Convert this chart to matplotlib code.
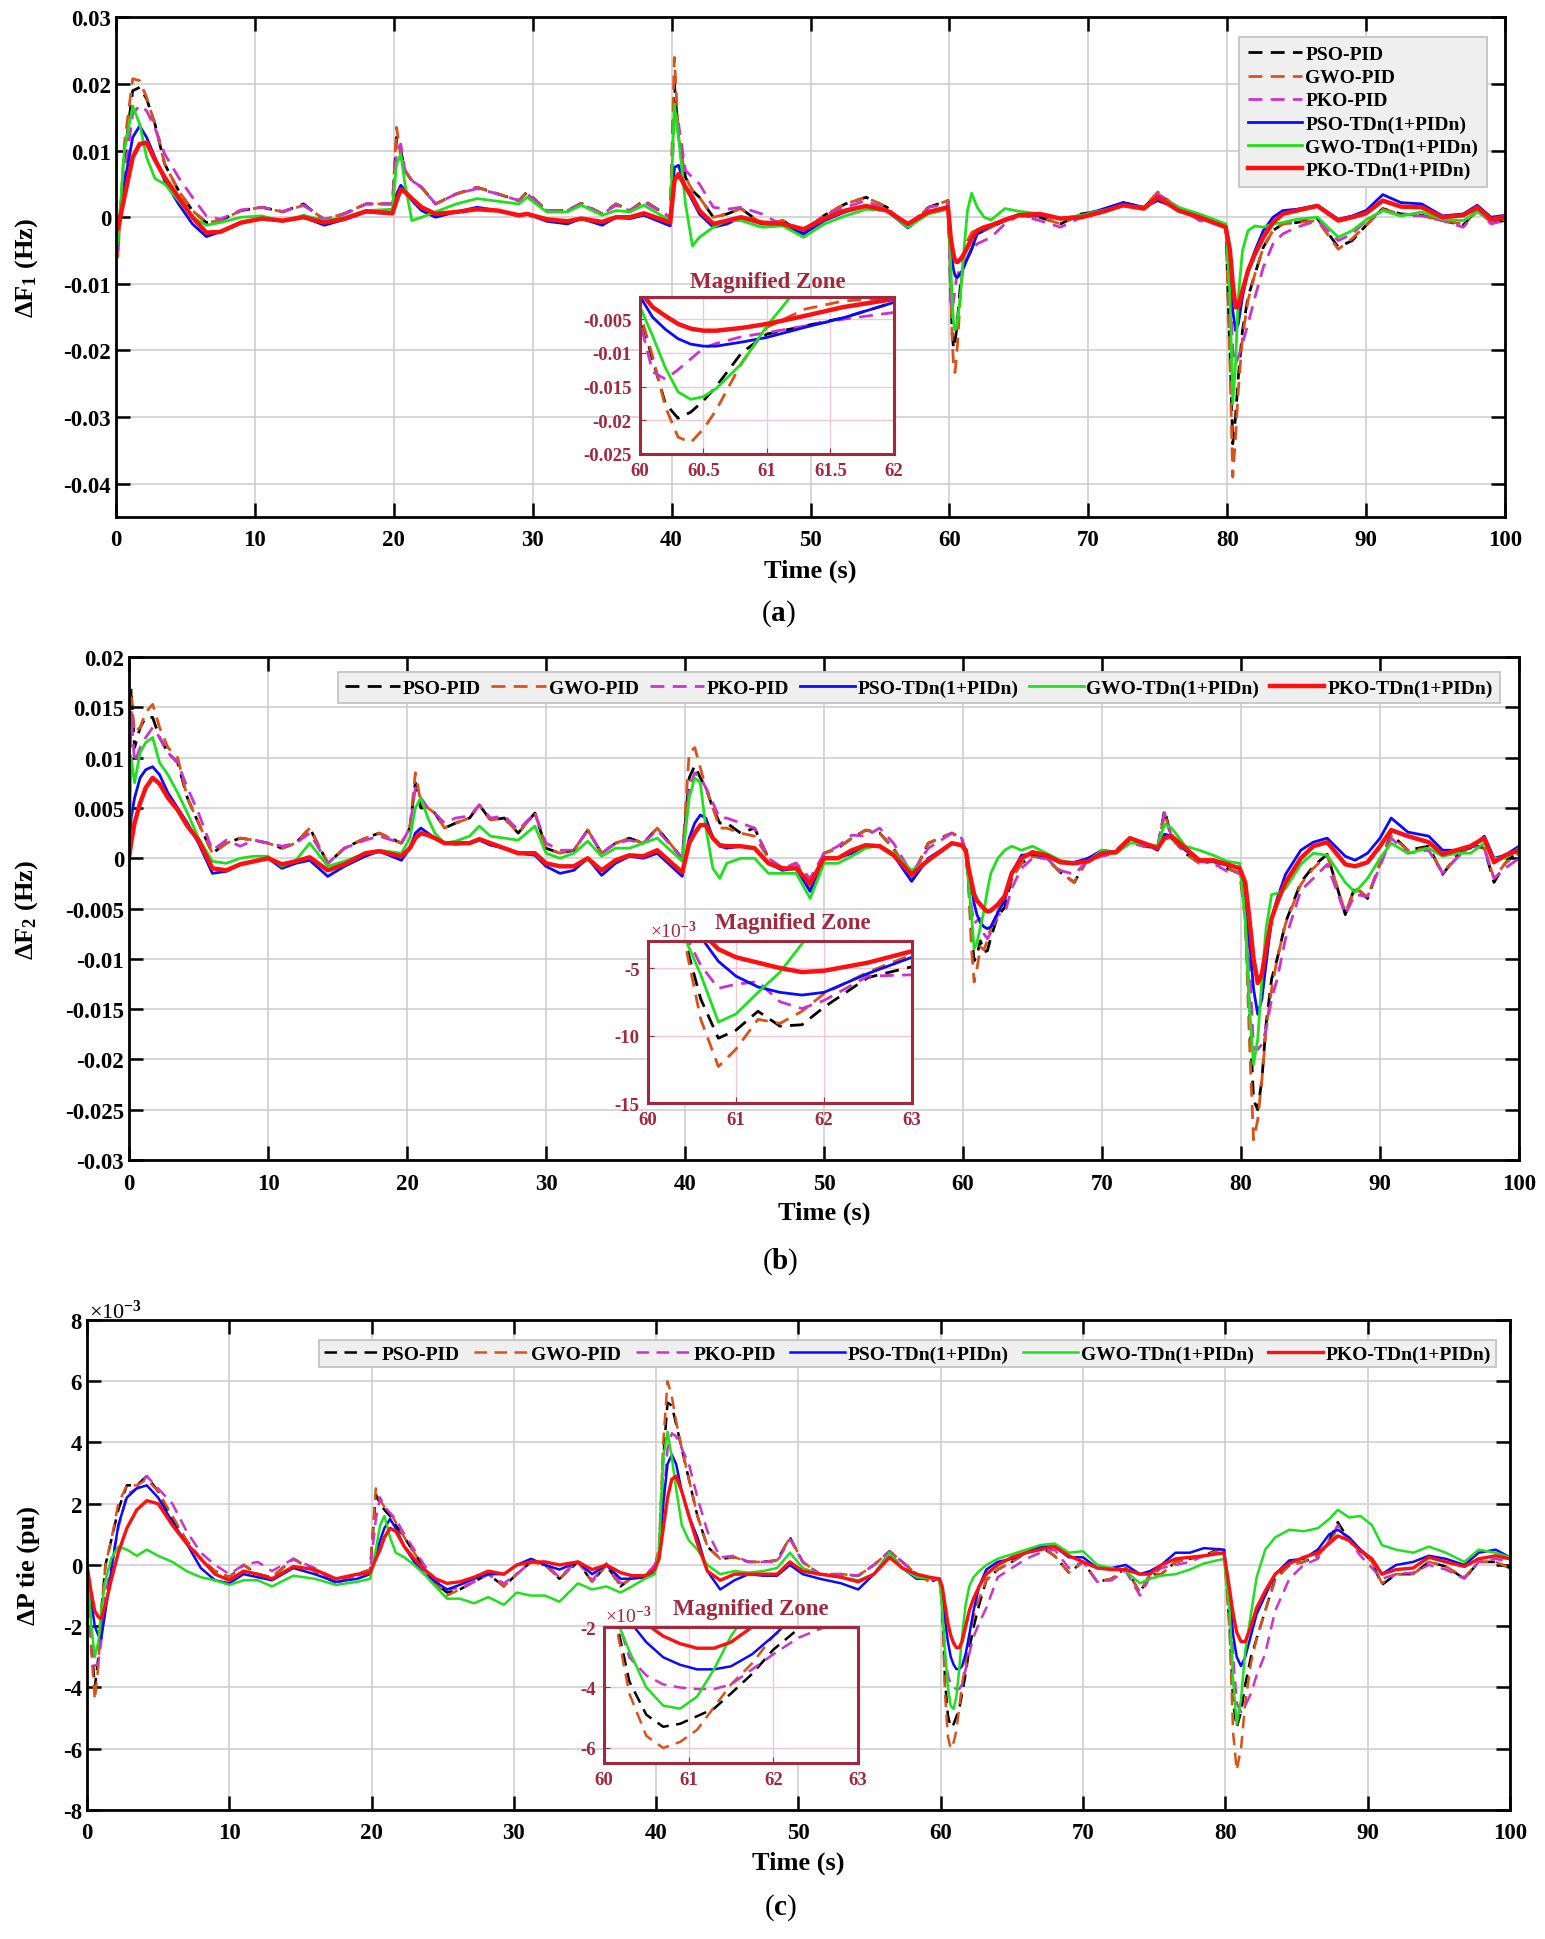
import numpy as np
import matplotlib
matplotlib.use('Agg')
import matplotlib.pyplot as plt

# Fonts: Times-like bold, as in the MATLAB figure
plt.rcParams['font.family'] = ['Liberation Serif', 'DejaVu Serif']
plt.rcParams['font.weight'] = 'bold'
plt.rcParams['mathtext.fontset'] = 'custom'
plt.rcParams['mathtext.rm'] = 'Liberation Serif:bold'
plt.rcParams['mathtext.bf'] = 'Liberation Serif:bold'
plt.rcParams['mathtext.it'] = 'Liberation Serif:italic:bold'

names = ['PSO-PID', 'GWO-PID', 'PKO-PID', 'PSO-TDn(1+PIDn)', 'GWO-TDn(1+PIDn)', 'PKO-TDn(1+PIDn)']

# ---------------- (a) dF1, values in 1e-3 Hz ----------------
t_a = [0, 0.12, 0.6, 1.2, 1.7, 2.2, 2.8, 3.5, 4.5, 5.5, 6.5, 7.5, 9, 10.5, 12, 13.5, 15, 16.5, 18, 19.9,
       20.2, 20.5, 20.8, 21.3, 22, 23, 24.5, 26, 27.5, 29, 29.6, 31, 32.5, 33.5, 35, 36, 37, 38, 39.9,
       40.2, 40.5, 41, 41.5, 42, 43, 44, 45, 46.5, 48, 49.5, 51, 52.5, 54, 55.5, 57, 58.5, 59.9,
       60.1, 60.2, 60.3, 60.4, 60.5, 60.6, 60.8, 61, 61.3, 61.6, 62, 62.5, 63, 64, 65, 66.5, 68, 69.5, 71, 72.5, 74, 75, 76.5, 78, 79.9,
       80.2, 80.4, 80.6, 80.8, 81.1, 81.5, 82, 82.6, 83.3, 84, 85, 86.5, 88, 89, 90, 91.2, 92.5, 94, 95.5, 97, 98, 99, 100]
a_pso_pid = [-1.5, -5, 9, 19, 19.5, 17.8, 14, 8, 4, 1, -0.8, -0.5, 1, 1.5, 0.8, 2, -0.5, 0.6, 2, 2,
             12, 10, 7, 5.5, 4.5, 2, 3.5, 4.5, 3.5, 2.5, 3.8, 1, 1, 2.1, 0.5, 2, 1, 2.5, 0,
             20, 12, 6, 4, 3, 0, 0.5, 1.3, -1, -0.5, -2.5, 0.3, 2, 3, 1.5, -1.5, 1.5, 2.5,
             -11, -17.5, -19.7, -18.8, -17.1, -15, -10, -7.2, -6, -4.8, -2.5, -2, -1.5, -0.5, 0.3, 0, -1, 0.5, 1, 2.2, 1.5, 3.5, 1.3, -0.2, -1.2,
             -20, -34, -30, -24, -17, -12, -8.5, -4.5, -2, -1, -0.8, -0.2, -4.5, -3.5, -1.2, 1.3, 0.5, 0.3, -0.5, -1.2, 1.2, -0.8, -0.5]
a_gwo_pid = [-2, -6, 11, 20.8, 20.5, 18, 14, 8, 4, 1, -0.8, -0.5, 1, 1.5, 0.8, 1.8, -0.3, 0.6, 2, 2,
             13.5, 9, 7, 5.5, 4.5, 2, 3.5, 4.5, 3.5, 2.5, 3.8, 1, 1, 2.1, 0.5, 2, 1, 2.5, 0,
             24, 12, 6, 4, 3, 0, 0.5, 1.3, -1, -0.5, -2, 0.3, 2, 3, 1.5, -1.5, 1.5, 2.5,
             -10.5, -18, -22.5, -23.3, -21.3, -18.5, -11.5, -6.2, -3.5, -2.3, -1.8, -2, -1.5, -0.5, 0.3, 0, -1, 0.5, 1, 2, 1.5, 3.8, 1.3, -0.2, -1.2,
             -22, -39, -33, -26, -18, -12.5, -8.5, -4.5, -2, -1, -0.8, -0.5, -4.8, -3.2, -1.2, 1.2, 0.5, 0.3, -0.5, -1, 1.2, -0.8, -0.3]
a_pko_pid = [-1.5, -5, 6, 15.5, 16.8, 16, 13.4, 9.5, 6, 3, 0.2, -0.3, 1.1, 1.5, 0.9, 1.8, -0.3, 0.5, 2, 2,
             10, 11, 7, 5.5, 4.5, 2, 3.5, 4.3, 3.5, 2.5, 3.5, 1, 1, 2, 0.5, 1.8, 1, 2.3, 0,
             15, 14, 7, 6, 5, 1.5, 1.2, 1.5, 0.5, -1.2, -2, 0.3, 1.5, 2.5, 1, -1.2, 1.5, 2,
             -12.8, -13.9, -12.5, -10.9, -9.3, -8.6, -7.6, -7, -6, -5, -4, -3.5, -3, -1, 0.3, -0.5, -1.5, 0, 1, 2, 1.3, 3.5, 1.5, -0.5, -1.2,
             -10, -20, -22, -21, -19, -16, -12, -7.5, -4, -2.5, -1.5, -0.5, -3.5, -2.5, -0.5, 1, 0.3, 0.2, -0.5, -1.5, 1, -1, -0.5]
a_pso_td = [-1, -2.5, 5, 12, 13.7, 12, 9, 5.5, 2, -1, -2.9, -2.2, -0.8, -0.2, -0.6, 0, -1.2, -0.3, 0.8, 0.5,
            3.5, 4.8, 4, 2.5, 1, 0, 0.8, 1.5, 1, 0.2, 0.5, -0.6, -1, -0.2, -1.2, 0, -0.2, 0.3, -1.3,
            7.5, 7.8, 4.5, 2.5, 0.5, -1.5, -1, 0, -1, -1.2, -2.5, -0.5, 0.8, 1.7, 1, -1.6, 0.8, 1.5,
            -4.7, -6.5, -7.9, -8.7, -9, -9, -8.4, -7.7, -6.2, -4.8, -2.5, -1.8, -1.3, -0.3, 0.4, 0.3, -0.2, 0.2, 1.2, 2.2, 1.5, 2.5, 1.3, 0, -1.5,
            -8, -14, -17, -16, -12, -8, -5, -2, 0, 1, 1.2, 1.8, -0.3, 0.2, 1, 3.4, 2.2, 2, 0.2, 0.5, 1.8, 0, 0.3]
a_gwo_td = [-1, -4, 10, 16.7, 14, 9, 5.8, 5, 2.5, 0, -1.2, -0.8, 0, 0.2, -0.6, 0.3, -0.5, 0, 1, 1.2,
            8, 9.5, 5, -0.5, 0, 0.8, 2, 2.8, 2.4, 2, 3, 0.8, 0.8, 1.8, 0.3, 1, 0.8, 1.8, -0.5,
            17, 12, 2, -4.3, -3, -1.5, -0.5, -0.5, -1.5, -1.3, -3, -1, 0.2, 1.2, 1, -1.5, 0.5, 1.2,
            -7.5, -12.2, -15.8, -16.9, -16.5, -15.3, -11.6, -6, 1, 3.6, 1.5, 0, -0.4, 1.3, 0.9, 0.5, -0.2, 0.3, 1, 1.7, 1.5, 3, 1.5, 0.5, -1,
            -12, -28, -22, -12, -5, -2, -1.3, -1.5, -1, -0.8, -0.3, 0, -3, -2, -0.4, 1, 0.2, 0.8, -0.3, -0.5, 0.8, -0.3, 0.2]
a_pko_td = [-1.5, -1.8, 3, 9, 11, 11.2, 8.6, 6, 3, 0, -2.3, -2.2, -0.8, -0.2, -0.5, 0, -0.8, -0.2, 0.9, 0.6,
            2.5, 4.2, 3.8, 2.8, 1.5, 0.5, 0.8, 1.2, 1, 0.3, 0.5, -0.3, -0.6, -0.2, -0.7, 0, 0, 0.6, -0.8,
            5.5, 6.5, 4.5, 3, 1, -1, -0.5, 0, -0.8, -1, -1.8, -0.2, 1, 1.7, 1, -1, 0.8, 1.5,
            -3.2, -4.5, -5.7, -6.4, -6.7, -6.7, -6.3, -5.7, -4.5, -3.2, -2.0, -1.5, -1.2, -0.4, 0.3, 0.5, -0.2, 0, 0.8, 1.8, 1.3, 3, 1, 0, -1.5,
            -5, -10, -13.5, -13.5, -11, -8, -5.5, -3, -0.8, 0.5, 1, 1.7, -0.5, 0, 0.6, 2.5, 1.6, 1.5, 0, 0.3, 1.5, -0.3, 0]

# ---------------- (b) dF2, values in 1e-3 Hz ----------------
t_b = [0, 0.15, 0.4, 0.8, 1.2, 1.7, 2.2, 2.8, 3.5, 4.2, 5, 6, 7, 8, 9, 10, 11, 12, 13, 14.3, 15.5, 17, 18, 19.6,
       20.2, 20.6, 21, 21.5, 22, 22.7, 23.5, 24.5, 25.2, 26, 27, 28, 29.2, 30, 31, 32, 33, 34, 35, 36, 37, 38, 39.8,
       40.3, 40.7, 41.1, 41.5, 42, 42.5, 43, 44, 45, 46, 47, 48, 49, 50, 51, 52, 53, 54, 55, 56.3, 57.5, 59.2, 59.9,
       60.2, 60.4, 60.6, 60.8, 61, 61.25, 61.5, 61.75, 62, 62.5, 63, 63.5, 64.2, 65, 66, 67, 68, 69, 70, 71, 72, 73, 74, 74.5, 75, 76, 77, 78, 79, 79.9,
       80.3, 80.6, 80.9, 81.2, 81.5, 81.8, 82.2, 82.6, 83.2, 84.3, 85.2, 86.2, 87.5, 88.2, 89.1, 90, 90.8, 92, 93.5, 94.5, 95.5, 96.5, 97.5, 98.2, 99, 100]
b_pso_pid = [0, 16.9, 11, 13, 14, 14, 12, 10.5, 9.5, 6, 3.5, 0.5, 1.5, 2, 1.8, 1.5, 1, 1.5, 3, -0.5, 1, 2, 2.5, 1.5,
             3, 7.5, 5, 5, 4.5, 3, 3.5, 4, 5.3, 3.8, 4, 2.5, 4.5, 1, 0.5, 0.8, 2.8, 0.5, 1.5, 2, 1.5, 3, 0,
             8, 9.2, 8, 7, 5, 3.5, 3.5, 2.5, 3, 0, -1, -0.5, -3, 0.5, 1, 2, 2.8, 2.5, 1, -2, 1.5, 2.5, 2,
             0.5, -2.5, -7.3, -10.2, -9.6, -8.2, -9.3, -9.2, -7.9, -5.7, -4.9, -2, -0.5, 0.2, 0, -1.4, -2.4, 0, 0.3, 0.8, 1.8, 1.2, 1, 4.8, 2, 0.5, -0.5, -0.3, -1, -1.5,
             -5, -15, -24, -25, -22, -16.5, -12, -10, -6.4, -2.4, -0.8, 0.4, -5.6, -2.8, -4, -0.5, 2.4, 0.8, 1.2, -1.6, 0.2, 1.4, 1, -2.4, -0.5, 0.8]
b_gwo_pid = [0, 16, 12.5, 13, 14.5, 15.3, 13, 11, 10, 6, 3.5, 0.5, 1.5, 2, 1.8, 1.5, 1, 1.5, 3, -0.5, 1, 2, 2.5, 1.5,
             3, 8.5, 5.5, 5, 4.5, 3, 3.5, 4, 5.3, 3.8, 4, 2.5, 4.5, 1, 0.5, 0.8, 2.8, 0.5, 1.5, 2, 1.5, 3, 0,
             10.5, 11, 9, 7, 5, 3, 3, 2.5, 2.2, 0, -1, -0.5, -3, 0.5, 1, 2, 2.8, 2.5, 1, -2, 1.5, 2.5, 2,
             0.5, -2.5, -8.8, -12.3, -11, -8.8, -9.1, -8.2, -6.9, -5.3, -4, -2, -0.5, 0.2, 0, -1.4, -2.4, 0, 0.3, 0.8, 2, 1.2, 1, 4.5, 2, 0.5, -0.5, -0.3, -1, -1.5,
             -6, -18, -28, -26, -22, -17, -13, -10, -6.5, -2.6, -1, 0.3, -5.4, -3, -3.8, -0.5, 2.2, 0.8, 1, -1.4, 0, 1.2, 1, -2, -0.5, 0.5]
b_pko_pid = [0, 14.5, 9.5, 11, 12, 13, 12, 10.5, 9.5, 7, 4.5, 0.8, 1.8, 1.2, 1.8, 1.5, 1.2, 1.5, 2.5, -0.5, 1, 1.8, 2.2, 1.5,
             3, 7, 6, 5, 4.5, 3.5, 4, 4.2, 5.3, 4, 4.2, 2.8, 4.5, 1.5, 0.8, 0.8, 2.8, 0.5, 1.5, 1.8, 1.5, 2.8, 0,
             7, 8.5, 8, 7, 5.5, 4, 4, 3.5, 3, 0, -1, -0.5, -2, 0.5, 1.2, 2.3, 2.2, 3, 1.5, -1.5, 1, 2.5, 2,
             0.5, -2.2, -4.8, -6.5, -6.2, -6, -7.5, -8, -7.4, -5.6, -5.5, -3, -1, 0, 0, -1.2, -1.6, -0.2, 0.2, 0.5, 1.5, 1.2, 1.3, 4.5, 2.2, 0.8, -0.3, -0.5, -1.3, -1.5,
             -3, -10, -19, -19, -18.5, -17, -14, -12, -8, -3.2, -2, -0.6, -5.6, -3.6, -3.8, -0.8, 2, 0.5, 0.8, -1.5, 0, 1.2, 1, -2, -1, 0]
b_pso_td = [0, 4, 6, 8, 8.8, 9.1, 8.3, 6.5, 5, 3.5, 1.5, -1.5, -1.3, -0.6, -0.3, 0, -1, -0.5, -0.2, -1.8, -0.8, 0.2, 0.7, -0.2,
            1, 2.5, 3, 2.5, 2, 1.5, 1.4, 1.5, 1.8, 1.3, 1, 0.5, 0.3, -0.8, -1.5, -1.2, 0, -1.7, -0.5, 0.2, 0, 0.5, -1.8,
            2, 3.5, 4.3, 4, 2, 1.2, 1, 1.2, 1, -0.5, -1.2, -1, -3.3, 0, 0, 0.5, 1.3, 1.2, 0.3, -2.3, 0, 1.5, 1.3,
            0.8, -1.5, -2.7, -4.5, -5.6, -6.4, -6.8, -7, -6.8, -5.4, -4.2, -1.5, 0.3, 0.4, 0.2, -0.4, -0.4, 0, 0.8, 0.6, 2, 1.5, 0.8, 2.4, 2.2, 0.8, -0.2, -0.3, -0.7, -1,
            -3, -8, -13, -15.5, -14, -10.5, -6, -4, -1.6, 0.8, 1.6, 2, 0.2, -0.2, 0.5, 2, 4, 2.6, 2.2, 0.8, 0.8, 1, 2.2, 0, 0.3, 1.2]
b_gwo_td = [0, 10, 7.5, 10.5, 11.5, 12, 9.5, 8.3, 6.5, 4.5, 2, -0.3, -0.5, 0, 0.2, 0.2, -0.8, -0.2, 1.5, -0.8, -0.3, 0.5, 0.8, 0.5,
            2, 5, 6, 4, 2.5, 1.5, 1.7, 2.2, 3.2, 2.2, 2, 1.8, 3.2, 0.5, 0, 0.5, 1.7, 0.2, 1, 1, 1.5, 2, -0.3,
            6, 8, 7.5, 3, -1, -2, -0.5, 0, 0, -1.5, -1.5, -1.5, -4, -0.5, -0.5, 0.2, 1, 1.3, 0.5, -1.2, -0.2, 1.5, 1.2,
            0.5, -2.5, -5.5, -9, -8.4, -6.8, -5.3, -3.2, -1.5, 0, 0.8, 1.2, 0.8, 1.2, 0.5, -0.2, -0.5, -0.3, 0.8, 0.5, 1.5, 1.5, 1.2, 3.4, 3, 1.2, 0.8, 0.3, -0.3, -0.5,
            -6, -15, -20.5, -18, -12, -7, -3.6, -3.5, -3, -0.6, 0.5, 0.3, -2.4, -3.4, -2, 0, 1.5, 0.5, 1, 0.2, 0.5, 0.5, 1.5, 0, 0, 1]
b_pko_td = [0, 1.5, 3.5, 5.5, 7, 8, 7.4, 6, 4.8, 3.2, 1.8, -1, -1.2, -0.6, -0.3, 0, -0.6, -0.3, 0.1, -1.2, -0.6, 0.5, 0.7, 0.2,
            1, 2, 2.5, 2.3, 2, 1.5, 1.5, 1.5, 1.9, 1.5, 1, 0.5, 0.5, -0.5, -0.8, -0.8, 0, -1.2, -0.2, 0.3, 0.2, 0.8, -1.4,
            1.5, 2.5, 3.3, 3.3, 2, 1.3, 1.2, 1.2, 1, -0.5, -1, -1, -2.5, 0, 0, 0.8, 1.3, 1.2, 0.3, -1.6, -0.2, 1.5, 1.3,
            0.8, -1, -2.3, -3.6, -4.2, -4.6, -5, -5.3, -5.2, -4.6, -3.75, -1.5, 0, 0.6, 0.3, -0.4, -0.5, -0.3, 0.5, 0.6, 2, 1.5, 1, 2, 2.2, 1, -0.2, -0.2, -0.6, -1,
            -2.4, -6, -10, -12.4, -11.5, -9, -6, -4.4, -2.4, 0, 1.2, 1.6, -0.6, -0.8, -0.4, 1.2, 2.8, 2.2, 1.6, 0.4, 0.8, 1.2, 2, -0.4, 0.3, 0.8]

# ---------------- (c) dPtie, values in 1e-3 pu ----------------
t_c = [0, 0.3, 0.55, 0.8, 1.0, 1.3, 1.7, 2.2, 2.8, 3.5, 4.2, 5, 6, 7, 8, 9, 10, 11, 12, 13, 14.5, 16, 17.5, 19, 19.9,
       20.3, 20.6, 20.9, 21.3, 21.7, 22.3, 23, 23.7, 24.5, 25.3, 26.2, 27.2, 28.2, 29.3, 30.2, 31.2, 32.2, 33.2, 34.5, 35.5, 36.5, 37.5, 38.3, 39.2, 39.9,
       40.2, 40.5, 40.8, 41.1, 41.4, 41.8, 42.3, 42.9, 43.6, 44.5, 45.5, 46.5, 47.5, 48.5, 49.4, 50.3, 51.5, 53, 54.2, 55.3, 56.4, 57.3, 58.3, 59.2, 59.9,
       60.1, 60.3, 60.5, 60.7, 60.9, 61.1, 61.3, 61.5, 61.75, 62, 62.3, 62.7, 63.2, 64, 65, 66, 67, 68, 69, 70, 71, 72, 73, 74, 74.7, 75.5, 76.5, 77.5, 78.5, 79.9,
       80.3, 80.55, 80.8, 81.1, 81.4, 81.8, 82.2, 82.8, 83.5, 84.5, 85.5, 86.5, 87.3, 87.9, 88.7, 89.5, 90.3, 91, 92, 93.2, 94.3, 95.5, 96.8, 97.8, 99, 100]
c_pso_pid = [0, -2.5, -4, -3, -1.5, 0, 0.8, 1.8, 2.6, 2.6, 2.9, 2.4, 1.5, 0.8, 0.2, -0.2, -0.4, 0, -0.3, -0.4, 0.2, -0.2, -0.6, -0.3, -0.15,
             2.3, 2.0, 1.8, 1.6, 1.3, 0.9, 0.4, -0.1, -0.6, -0.9, -0.8, -0.55, -0.3, -0.7, -0.3, 0.1, 0, -0.45, 0.1, -0.55, 0, -0.7, -0.4, -0.4, -0.1,
             0.5, 3.5, 5.3, 5.2, 4.6, 3.8, 2.8, 1.6, 0.6, 0.2, 0.25, 0.1, 0.1, 0.15, 0.9, 0.1, -0.3, -0.3, -0.35, 0, 0.45, 0.1, -0.3, -0.55, -0.45,
             -1.2, -3.8, -4.9, -5.3, -5.2, -4.95, -4.7, -4.2, -3.55, -2.75, -2.05, -1.3, -0.5, -0.15, 0.1, 0.4, 0.6, 0.3, -0.25, 0.1, -0.55, -0.45, -0.1, -0.9, -0.3, -0.3, 0.1, 0.2, 0.3, 0.6,
             -2.0, -4.5, -5.3, -4.8, -3.9, -3.0, -2.4, -1.5, -0.45, 0, 0.1, 0.3, 0.8, 1.4, 0.8, 0.5, 0.1, -0.65, -0.3, -0.3, 0.1, -0.05, -0.45, 0.1, 0.1, -0.1]
c_gwo_pid = [0, -2.8, -4.4, -3.3, -1.5, 0, 0.8, 2, 2.6, 2.6, 2.8, 2.4, 1.6, 0.8, 0.2, -0.2, -0.4, 0, -0.3, -0.4, 0.2, -0.2, -0.6, -0.3, -0.15,
             2.5, 2.1, 1.9, 1.7, 1.4, 0.9, 0.4, -0.1, -0.6, -1.0, -0.8, -0.55, -0.3, -0.7, -0.3, 0.1, 0, -0.45, 0.1, -0.55, 0, -0.7, -0.4, -0.4, -0.1,
             0.6, 4.0, 6.0, 5.5, 4.7, 3.8, 2.8, 1.6, 0.6, 0.2, 0.25, 0.1, 0.1, 0.15, 0.9, 0.1, -0.3, -0.3, -0.35, 0, 0.45, 0.1, -0.3, -0.55, -0.45,
             -1.3, -4.2, -5.6, -6.0, -5.8, -5.4, -4.65, -3.9, -3.2, -2.3, -1.7, -1.1, -0.5, -0.15, 0.1, 0.4, 0.6, 0.3, -0.25, 0.1, -0.55, -0.45, -0.1, -0.9, -0.3, -0.3, 0.1, 0.2, 0.3, 0.55,
             -2.2, -5.5, -6.7, -6.0, -4.5, -3.2, -2.4, -1.5, -0.5, 0, 0.1, 0.3, 0.7, 1.2, 0.8, 0.5, 0.1, -0.6, -0.3, -0.3, 0.1, -0.05, -0.4, 0.1, 0.1, -0.1]
c_pko_pid = [0, -2, -3.3, -3.2, -2.5, -1, 0, 1.2, 2.3, 2.5, 2.9, 2.5, 2.0, 1.1, 0.4, 0, -0.3, 0, 0.1, -0.2, 0.2, -0.1, -0.6, -0.35, -0.2,
             1.5, 2.2, 1.9, 1.7, 1.5, 1.0, 0.5, 0, -0.5, -0.8, -0.75, -0.55, -0.3, -0.6, -0.3, 0.1, 0.05, -0.4, 0.15, -0.5, 0.05, -0.6, -0.4, -0.35, 0,
             0.3, 2.0, 3.8, 4.3, 4.2, 3.8, 3.3, 2.2, 1.1, 0.25, 0.3, 0.1, 0.1, 0.1, 0.85, 0.1, -0.3, -0.3, -0.35, 0, 0.45, 0.1, -0.3, -0.5, -0.45,
             -1.2, -3.0, -3.6, -3.9, -4.0, -4.05, -4.05, -3.9, -3.4, -2.9, -2.35, -1.9, -1.4, -0.4, -0.1, 0.2, 0.4, 0.5, -0.1, 0.1, -0.55, -0.5, -0.2, -1.0, -0.4, -0.1, 0, 0.1, 0.3, 0.4,
             -1.2, -3.0, -4.5, -4.8, -4.6, -4.2, -3.6, -2.9, -1.5, -0.45, 0, 0.2, 0.8, 1.3, 0.8, 0.3, -0.1, -0.45, -0.3, -0.25, 0, -0.15, -0.45, 0.1, 0.2, 0.1]
c_pso_td = [0, -1.2, -2, -2.3, -2.4, -1.5, -0.2, 1.3, 2.2, 2.5, 2.6, 2.2, 1.4, 0.7, -0.1, -0.5, -0.6, -0.3, -0.4, -0.5, -0.1, -0.3, -0.55, -0.45, -0.3,
            0.3, 0.8, 1.2, 1.5, 1.2, 0.6, 0.1, -0.3, -0.55, -0.8, -0.65, -0.45, -0.3, -0.3, 0, 0.2, 0, -0.15, 0.1, -0.3, 0, -0.45, -0.45, -0.4, -0.2,
            0.3, 2.0, 3.3, 3.6, 3.3, 2.4, 1.6, 0.9, -0.2, -0.8, -0.5, -0.3, -0.35, -0.35, 0, -0.3, -0.45, -0.6, -0.8, -0.3, 0.4, -0.1, -0.45, -0.45, -0.45,
            -0.8, -1.8, -2.5, -3.0, -3.25, -3.4, -3.4, -3.3, -2.9, -2.3, -1.5, -0.7, -0.15, 0.1, 0.2, 0.4, 0.6, 0.6, 0.25, 0.25, -0.1, -0.1, 0, -0.3, -0.2, 0, 0.4, 0.4, 0.55, 0.5,
            -1.0, -2.3, -3.0, -3.3, -3.0, -2.3, -1.6, -1.0, -0.3, 0.15, 0.2, 0.5, 1.0, 1.15, 0.9, 0.5, 0.2, -0.3, 0, 0.1, 0.3, 0.2, 0, 0.4, 0.5, 0.25]
c_gwo_td = [0, -2, -3, -2.5, -1.5, -0.5, 0.2, 0.6, 0.5, 0.3, 0.5, 0.3, 0.1, -0.2, -0.4, -0.5, -0.65, -0.5, -0.5, -0.7, -0.35, -0.45, -0.65, -0.55, -0.45,
            0.5, 1.3, 1.6, 0.9, 0.4, 0.25, 0, -0.3, -0.7, -1.1, -1.1, -1.25, -1.05, -1.3, -0.9, -1.0, -1.0, -1.2, -0.6, -0.8, -0.7, -0.9, -0.7, -0.45, -0.3,
            0.5, 3.5, 4.35, 3.5, 2.5, 1.3, 0.8, 0.5, 0, -0.3, -0.2, -0.25, -0.2, -0.1, 0.4, -0.1, -0.3, -0.4, -0.5, -0.3, 0.4, -0.1, -0.4, -0.45, -0.45,
            -1.4, -2.8, -4.0, -4.6, -4.7, -4.3, -3.4, -2.3, -1.3, -0.7, -0.4, -0.2, 0, 0.2, 0.35, 0.5, 0.65, 0.7, 0.4, 0.45, 0, -0.1, -0.2, -0.6, -0.45, -0.35, -0.3, -0.15, 0.05, 0.2,
            -1.5, -3.8, -5.2, -4.4, -2.8, -1.6, -0.4, 0.5, 0.9, 1.15, 1.1, 1.2, 1.5, 1.8, 1.55, 1.6, 1.3, 0.65, 0.5, 0.4, 0.6, 0.4, 0.1, 0.5, 0.4, 0.25]
c_pko_td = [0, -0.9, -1.5, -1.7, -1.75, -1.3, -0.5, 0.4, 1.2, 1.8, 2.1, 2.0, 1.3, 0.7, 0.2, -0.3, -0.5, -0.2, -0.3, -0.45, -0.05, -0.15, -0.45, -0.3, -0.25,
            0.2, 0.5, 0.9, 1.2, 1.1, 0.6, 0.2, -0.15, -0.45, -0.6, -0.55, -0.4, -0.2, -0.3, 0, 0.1, 0.1, 0, 0.1, -0.15, 0, -0.25, -0.35, -0.35, -0.15,
            0.2, 1.2, 2.2, 2.8, 2.9, 2.4, 1.6, 0.7, -0.2, -0.5, -0.3, -0.3, -0.3, -0.3, 0.1, -0.2, -0.3, -0.4, -0.55, -0.3, 0.25, -0.1, -0.3, -0.4, -0.45,
            -0.7, -1.3, -1.9, -2.3, -2.55, -2.7, -2.7, -2.5, -2.0, -1.5, -1.1, -0.7, -0.3, 0, 0.25, 0.4, 0.5, 0.6, 0.3, 0.1, -0.1, -0.15, -0.15, -0.3, -0.3, 0, 0.2, 0.25, 0.3, 0.4,
            -0.8, -1.6, -2.2, -2.5, -2.5, -2.0, -1.4, -0.85, -0.3, 0.05, 0.25, 0.4, 0.7, 0.95, 0.8, 0.45, 0.2, -0.3, -0.15, -0.1, 0.25, 0.1, -0.05, 0.2, 0.3, 0.2]

colors = ['black', '#d95319', '#cc33cc', '#0a0aff', '#1fe01f', '#ff1010']
dashed = [True, True, True, False, False, False]
maroon = '#a2283e'


def draw_lines(ax, t, data, lw, red_lw):
    for i, vals in enumerate(data):
        y = np.array(vals) * 1e-3
        if dashed[i]:
            ax.plot(t, y, color=colors[i], lw=lw, dashes=(5, 3), label=names[i])
        else:
            ax.plot(t, y, color=colors[i], lw=red_lw if i == 5 else lw, label=names[i])


def style_main(ax, yticks, ylabels, ylim):
    ax.set_xlim(0, 100)
    ax.set_ylim(ylim)
    ax.set_xticks(range(0, 101, 10))
    ax.set_yticks(yticks)
    ax.set_yticklabels(ylabels)
    ax.grid(True, color='#cfcfcf', lw=1.2)
    ax.tick_params(direction='in', top=True, right=True, length=10, width=1.8, labelsize=16.5)
    ax.tick_params(axis='x', pad=9)
    for s in ax.spines.values():
        s.set_linewidth(2.0)
    ax.set_xlabel('Time (s)', fontsize=19, fontweight='bold')


def add_inset(rect, t, data, lw, red_lw, xlim, xticks, ylim, yticks, ylabels):
    ax = fig.add_axes(rect)
    draw_lines(ax, t, data, lw, red_lw)
    ax.set_xlim(xlim)
    ax.set_ylim(ylim)
    ax.set_xticks(xticks)
    ax.set_xticklabels([f'{v:g}' for v in xticks])
    ax.set_yticks(yticks)
    ax.set_yticklabels(ylabels)
    ax.grid(True, color='#f2c9d2', lw=1.0)
    for s in ax.spines.values():
        s.set_color(maroon)
        s.set_linewidth(2.2)
    ax.tick_params(direction='in', length=4, color=maroon, labelcolor=maroon, labelsize=13.5, pad=6)
    return ax


leg_kw = dict(prop={'weight': 'bold', 'size': 14}, frameon=True, fancybox=False,
              facecolor='#efefef', edgecolor='#c4c4c4', framealpha=1, borderaxespad=0,
              handlelength=2.8, handletextpad=0.15)

fig = plt.figure(figsize=(15.45, 19.40), dpi=100)

# ---- panel (a)
data_a = [a_pso_pid, a_gwo_pid, a_pko_pid, a_pso_td, a_gwo_td, a_pko_td]
ax1 = fig.add_axes([0.0751, 0.7330, 0.8990, 0.2575])
draw_lines(ax1, t_a, data_a, 2.0, 3.2)
ya = [-0.04, -0.03, -0.02, -0.01, 0, 0.01, 0.02, 0.03]
style_main(ax1, ya, [f'{v:g}' for v in ya], (-0.045, 0.03))
ax1.set_ylabel('ΔF$_{1}$ (Hz)', fontsize=19, fontweight='bold')
ax1.yaxis.set_label_coords(-0.055, 0.5)
ax1.xaxis.set_label_coords(0.5, -0.083)
leg = ax1.legend(loc='upper right', bbox_to_anchor=(0.987, 0.961), labelspacing=0.28, borderpad=0.45, **leg_kw)
leg.get_frame().set_linewidth(1.3)

add_inset([0.4142, 0.7655, 0.1644, 0.0809], t_a, data_a, 2.0, 3.2,
          (60, 62), [60, 60.5, 61, 61.5, 62], (-0.025, -0.0017),
          [-0.025, -0.02, -0.015, -0.01, -0.005], ['-0.025', '-0.02', '-0.015', '-0.01', '-0.005'])
fig.text(0.4971, 0.8546, 'Magnified Zone', color=maroon, fontsize=16.5, fontweight='bold', ha='center', va='center')
fig.text(0.504, 1 - 614 / 1940, r'($\mathbf{a}$)', fontsize=21, fontweight='normal', ha='center', va='center')

# ---- panel (b)
data_b = [b_pso_pid, b_gwo_pid, b_pko_pid, b_pso_td, b_gwo_td, b_pko_td]
ax2 = fig.add_axes([0.0835, 0.4015, 0.8997, 0.2593])
draw_lines(ax2, t_b, data_b, 2.0, 3.2)
yb = [-0.03, -0.025, -0.02, -0.015, -0.01, -0.005, 0, 0.005, 0.01, 0.015, 0.02]
style_main(ax2, yb, [f'{round(v, 4):g}' for v in yb], (-0.03, 0.02))
ax2.set_ylabel('ΔF$_{2}$ (Hz)', fontsize=19, fontweight='bold')
ax2.yaxis.set_label_coords(-0.064, 0.5)
ax2.xaxis.set_label_coords(0.5, -0.081)
leg = ax2.legend(loc='upper right', bbox_to_anchor=(0.986, 0.970), ncol=6, columnspacing=0.55,
                 borderpad=0.35, **leg_kw)
leg.get_frame().set_linewidth(1.3)

add_inset([0.4194, 0.4309, 0.1709, 0.0835], t_b, data_b, 2.0, 3.2,
          (60, 63), [60, 61, 62, 63], (-0.015, -0.003),
          [-0.015, -0.01, -0.005], ['-15', '-10', '-5'])
fig.text(0.5133, 0.5242, 'Magnified Zone', color=maroon, fontsize=16.5, fontweight='bold', ha='center', va='center')
fig.text(0.4207, 0.5196, '×10$^{-3}$', color=maroon, fontsize=14, fontweight='normal', ha='left', va='center')
fig.text(0.505, 1 - 1262 / 1940, r'($\mathbf{b}$)', fontsize=21, fontweight='normal', ha='center', va='center')

# ---- panel (c)
data_c = [c_pso_pid, c_gwo_pid, c_pko_pid, c_pso_td, c_gwo_td, c_pko_td]
ax3 = fig.add_axes([0.0563, 0.0665, 0.9210, 0.2526])
draw_lines(ax3, t_c, data_c, 1.8, 2.4)
yc = [v * 1e-3 for v in range(-8, 9, 2)]
style_main(ax3, yc, [str(v) for v in range(-8, 9, 2)], (-0.008, 0.008))
ax3.set_ylabel('ΔP tie (pu)', fontsize=19, fontweight='bold')
ax3.yaxis.set_label_coords(-0.033, 0.5)
ax3.xaxis.set_label_coords(0.5, -0.082)
leg = ax3.legend(loc='upper right', bbox_to_anchor=(0.990, 0.959), ncol=6, columnspacing=0.75,
                 borderpad=0.25, **leg_kw)
leg.get_frame().set_linewidth(1.3)
fig.text(0.0576, 0.3237, '×10$^{-3}$', fontsize=16, fontweight='normal', ha='left', va='center')

add_inset([0.3909, 0.0907, 0.1644, 0.0701], t_c, data_c, 1.8, 2.4,
          (60, 63), [60, 61, 62, 63], (-0.0065, -0.002),
          [-0.006, -0.004, -0.002], ['-6', '-4', '-2'])
fig.text(0.4861, 0.1706, 'Magnified Zone', color=maroon, fontsize=16.5, fontweight='bold', ha='center', va='center')
fig.text(0.3916, 0.1670, '×10$^{-3}$', color=maroon, fontsize=14, fontweight='normal', ha='left', va='center')
fig.text(0.505, 1 - 1908 / 1940, r'($\mathbf{c}$)', fontsize=21, fontweight='normal', ha='center', va='center')

fig.savefig('out.png', dpi=100)
